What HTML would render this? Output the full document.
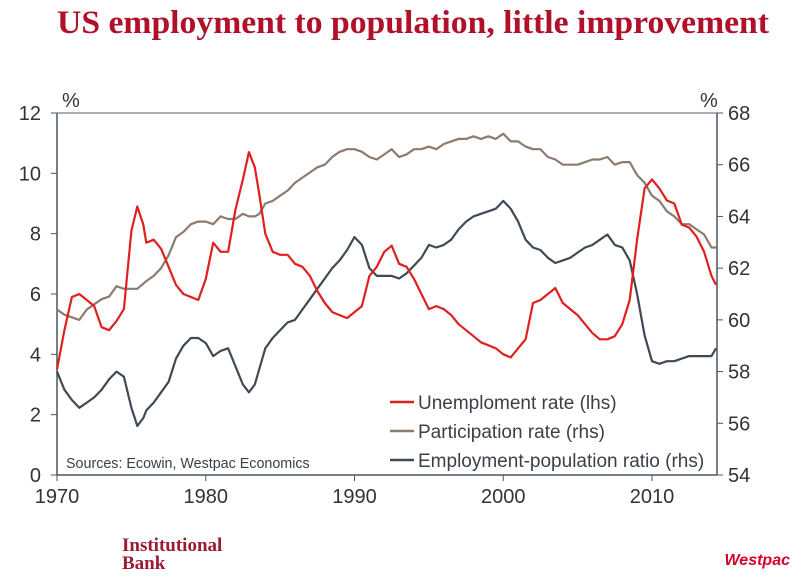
<!DOCTYPE html>
<html><head><meta charset="utf-8"><style>
body{margin:0;background:#fff;width:797px;height:580px;overflow:hidden;font-family:"Liberation Sans",sans-serif}
</style></head><body>
<svg width="797" height="580" xmlns="http://www.w3.org/2000/svg">
<text x="413" y="33" text-anchor="middle" font-family="Liberation Serif,serif" font-weight="bold" font-size="33" fill="#b0102a" textLength="712" lengthAdjust="spacingAndGlyphs">US employment to population, little improvement</text>
<g id="axes"></g>
<g id="series"></g>
<g font-size="19" fill="#3a3f48">
<line x1="390" y1="402" x2="414" y2="402" stroke="#e0201e" stroke-width="2.5"/><text x="418" y="409">Unemploment rate (lhs)</text>
<line x1="390" y1="431" x2="414" y2="431" stroke="#8c7b70" stroke-width="2.5"/><text x="418" y="438">Participation rate (rhs)</text>
<line x1="390" y1="460" x2="414" y2="460" stroke="#3e4a55" stroke-width="2.5"/><text x="418" y="467">Employment-population ratio (rhs)</text>
</g>
<text x="66" y="468" font-size="14.3" fill="#3a3f48">Sources: Ecowin, Westpac Economics</text>
<text x="122" y="551" font-family="Liberation Serif,serif" font-weight="bold" font-size="19" fill="#9b1b30">Institutional</text>
<text x="122" y="569" font-family="Liberation Serif,serif" font-weight="bold" font-size="19" fill="#9b1b30">Bank</text>
<text x="790" y="565" text-anchor="end" font-weight="bold" font-style="italic" font-size="16" fill="#d5002b">Westpac</text>
</svg>
<script>
const years=[1970,1970.5,1971,1971.5,1972,1972.5,1973,1973.5,1974,1974.5,1975,1975.4,1975.8,1976,1976.5,1977,1977.5,1978,1978.5,1979,1979.5,1980,1980.5,1981,1981.5,1982,1982.5,1982.9,1983.3,1983.6,1984,1984.5,1985,1985.5,1986,1986.5,1987,1987.5,1988,1988.5,1989,1989.5,1990,1990.5,1991,1991.5,1992,1992.5,1993,1993.5,1994,1994.5,1995,1995.5,1996,1996.5,1997,1997.5,1998,1998.5,1999,1999.5,2000,2000.5,2001,2001.5,2002,2002.5,2003,2003.5,2004,2004.5,2005,2005.5,2006,2006.5,2007,2007.5,2008,2008.5,2009,2009.5,2010,2010.5,2011,2011.5,2012,2012.5,2013,2013.5,2014,2014.3];
const unemployment=[3.5,4.8,5.9,6.0,5.8,5.6,4.9,4.8,5.1,5.5,8.1,8.9,8.3,7.7,7.8,7.5,6.9,6.3,6.0,5.9,5.8,6.5,7.7,7.4,7.4,8.8,9.8,10.7,10.2,9.3,8.0,7.4,7.3,7.3,7.0,6.9,6.6,6.1,5.7,5.4,5.3,5.2,5.4,5.6,6.6,6.9,7.4,7.6,7.0,6.9,6.5,6.0,5.5,5.6,5.5,5.3,5.0,4.8,4.6,4.4,4.3,4.2,4.0,3.9,4.2,4.5,5.7,5.8,6.0,6.2,5.7,5.5,5.3,5.0,4.7,4.5,4.5,4.6,5.0,5.8,7.8,9.5,9.8,9.5,9.1,9.0,8.3,8.2,7.9,7.4,6.6,6.3];
const participation=[60.4,60.2,60.1,60.0,60.4,60.6,60.8,60.9,61.3,61.2,61.2,61.2,61.4,61.5,61.7,62.0,62.5,63.2,63.4,63.7,63.8,63.8,63.7,64.0,63.9,63.9,64.1,64.0,64.0,64.1,64.5,64.6,64.8,65.0,65.3,65.5,65.7,65.9,66.0,66.3,66.5,66.6,66.6,66.5,66.3,66.2,66.4,66.6,66.3,66.4,66.6,66.6,66.7,66.6,66.8,66.9,67.0,67.0,67.1,67.0,67.1,67.0,67.2,66.9,66.9,66.7,66.6,66.6,66.3,66.2,66.0,66.0,66.0,66.1,66.2,66.2,66.3,66.0,66.1,66.1,65.6,65.3,64.8,64.6,64.2,64.0,63.7,63.7,63.5,63.3,62.8,62.8];
const empPop=[58.0,57.3,56.9,56.6,56.8,57.0,57.3,57.7,58.0,57.8,56.6,55.9,56.2,56.5,56.8,57.2,57.6,58.5,59.0,59.3,59.3,59.1,58.6,58.8,58.9,58.2,57.5,57.2,57.5,58.1,58.9,59.3,59.6,59.9,60.0,60.4,60.8,61.2,61.6,62.0,62.3,62.7,63.2,62.9,62.0,61.7,61.7,61.7,61.6,61.8,62.1,62.4,62.9,62.8,62.9,63.1,63.5,63.8,64.0,64.1,64.2,64.3,64.6,64.3,63.8,63.1,62.8,62.7,62.4,62.2,62.3,62.4,62.6,62.8,62.9,63.1,63.3,62.9,62.8,62.3,61.0,59.4,58.4,58.3,58.4,58.4,58.5,58.6,58.6,58.6,58.6,58.9];
const leftTicks=[0,2,4,6,8,10,12];
const rightTicks=[54,56,58,60,62,64,66,68];
const xTicks=[1970,1980,1990,2000,2010];
const NS="http://www.w3.org/2000/svg";
const X0=57,X1=717,Y0=475,Y1=113;
const xs=y=>X0+(y-1970)*14.875;
const yl=v=>Y0-(v/12)*(Y0-Y1);
const yr=v=>Y0-((v-54)/14)*(Y0-Y1);
function mk(t,a,p){const e=document.createElementNS(NS,t);for(const k in a)e.setAttribute(k,a[k]);p.appendChild(e);return e;}
const ax=document.getElementById('axes');
let l;
l=mk('line',{x1:X0,y1:Y1,x2:X1,y2:Y1,stroke:'#8a959e','stroke-width':1.5},ax);


l=mk('line',{x1:X0,y1:Y1,x2:X0,y2:Y0,stroke:'#4a5560','stroke-width':1.5},ax);


l=mk('line',{x1:X1,y1:Y1,x2:X1,y2:Y0,stroke:'#4a5560','stroke-width':1.5},ax);


l=mk('line',{x1:X0,y1:Y0,x2:X1,y2:Y0,stroke:'#4a5560','stroke-width':1.5},ax);


leftTicks.forEach(v=>{const y=yl(v);
 mk('line',{x1:X0-6,y1:y,x2:X0,y2:y,stroke:'#4a5560'},ax);
 const t=mk('text',{x:X0-16,y:y+7,'text-anchor':'end','font-size':20,fill:'#333'},ax);t.textContent=v;
 
 });
rightTicks.forEach(v=>{const y=yr(v);
 mk('line',{x1:X1,y1:y,x2:X1+6,y2:y,stroke:'#4a5560'},ax);
 const t=mk('text',{x:X1+11,y:y+7,'font-size':20,fill:'#333'},ax);t.textContent=v;
 
 });
xTicks.forEach(v=>{const x=xs(v);
 mk('line',{x1:x,y1:Y0,x2:x,y2:Y0+6,stroke:'#4a5560'},ax);
 const t=mk('text',{x:x,y:Y0+28,'text-anchor':'middle','font-size':20,fill:'#333'},ax);t.textContent=v;
 
 });
let u=mk('text',{x:62,y:107,'font-size':20,fill:'#333'},ax);u.textContent='%';


u=mk('text',{x:700,y:107,'font-size':20,fill:'#333'},ax);u.textContent='%';


const sg=document.getElementById('series');
function line(vals,f,col,name){const d=vals.map((v,i)=>(i?'L':'M')+xs(years[i]).toFixed(1)+','+f(v).toFixed(1)).join('');
 const p=mk('path',{d:d,fill:'none',stroke:col,'stroke-width':2.2,'stroke-linejoin':'round'},sg);
 
 }
line(participation,yr,'#8c7b70','participation-line');
line(empPop,yr,'#3e4a55','employment-population-line');
line(unemployment,yl,'#e0201e','unemployment-line');
</script>
</body></html>
